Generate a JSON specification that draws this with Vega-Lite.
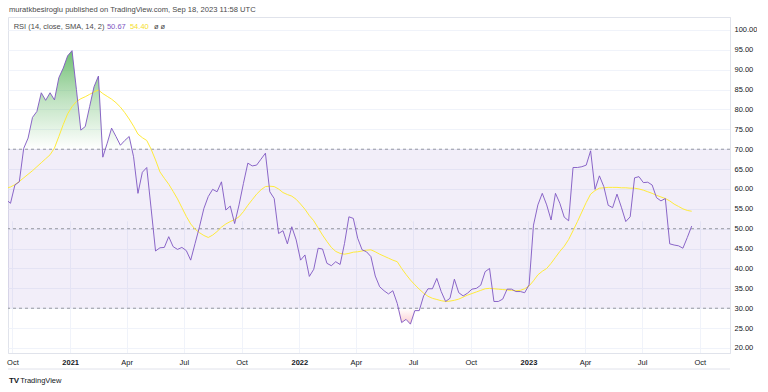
{
  "$schema": "https://vega.github.io/schema/vega-lite/v6.json",
  "width": 722,
  "height": 336,
  "padding": {"left": 6, "top": 6, "right": 0, "bottom": 0},
  "background": "white",
  "title": {"text": "muratkbesiroglu published on TradingView.com, Sep 18, 2023 11:58 UTC", "anchor": "start", "frame": "group", "font": "Liberation Sans", "fontSize": 7.6, "fontWeight": "normal", "color": "#4a4a4a", "offset": 3, "dx": 1},
  "config": {"view": {"stroke": "#e0e3eb", "strokeWidth": 1}, "font": "Liberation Sans", "axisY": {"tickCount": 17, "labelOverlap": false}},
  "data": {"values": [
    {"d":"2020-09-21","rsi":57.3,"sma":60.2},
    {"d":"2020-09-28","rsi":56.4,"sma":60.5},
    {"d":"2020-10-05","rsi":61.0,"sma":61.1},
    {"d":"2020-10-12","rsi":61.8,"sma":61.9},
    {"d":"2020-10-19","rsi":70.2,"sma":62.8},
    {"d":"2020-10-26","rsi":72.8,"sma":63.7},
    {"d":"2020-11-02","rsi":78.0,"sma":64.6},
    {"d":"2020-11-09","rsi":79.5,"sma":65.6},
    {"d":"2020-11-16","rsi":84.2,"sma":66.6},
    {"d":"2020-11-23","rsi":82.3,"sma":67.6},
    {"d":"2020-11-30","rsi":84.2,"sma":68.6},
    {"d":"2020-12-07","rsi":82.4,"sma":70.3},
    {"d":"2020-12-14","rsi":88.0,"sma":73.2},
    {"d":"2020-12-21","rsi":90.4,"sma":76.2},
    {"d":"2020-12-28","rsi":93.5,"sma":78.9},
    {"d":"2021-01-04","rsi":94.8,"sma":80.7},
    {"d":"2021-01-11","rsi":85.0,"sma":82.0},
    {"d":"2021-01-18","rsi":74.8,"sma":82.7},
    {"d":"2021-01-25","rsi":75.7,"sma":83.2},
    {"d":"2021-02-01","rsi":80.7,"sma":83.8},
    {"d":"2021-02-08","rsi":85.7,"sma":84.4},
    {"d":"2021-02-15","rsi":88.4,"sma":84.9},
    {"d":"2021-02-22","rsi":68.0,"sma":84.0},
    {"d":"2021-03-01","rsi":71.5,"sma":83.3},
    {"d":"2021-03-08","rsi":75.3,"sma":82.6},
    {"d":"2021-03-15","rsi":73.2,"sma":81.7},
    {"d":"2021-03-22","rsi":71.0,"sma":80.6},
    {"d":"2021-03-29","rsi":72.2,"sma":79.2},
    {"d":"2021-04-05","rsi":73.2,"sma":77.6},
    {"d":"2021-04-12","rsi":68.1,"sma":75.8},
    {"d":"2021-04-19","rsi":58.9,"sma":73.8},
    {"d":"2021-04-26","rsi":64.2,"sma":72.9},
    {"d":"2021-05-03","rsi":65.4,"sma":72.2},
    {"d":"2021-05-10","rsi":55.0,"sma":70.0},
    {"d":"2021-05-17","rsi":44.4,"sma":67.3},
    {"d":"2021-05-24","rsi":45.2,"sma":64.3},
    {"d":"2021-05-31","rsi":45.3,"sma":62.7},
    {"d":"2021-06-07","rsi":48.0,"sma":61.2},
    {"d":"2021-06-14","rsi":45.5,"sma":59.4},
    {"d":"2021-06-21","rsi":44.8,"sma":57.5},
    {"d":"2021-06-28","rsi":45.3,"sma":55.3},
    {"d":"2021-07-05","rsi":44.5,"sma":53.1},
    {"d":"2021-07-12","rsi":42.1,"sma":51.2},
    {"d":"2021-07-19","rsi":46.3,"sma":49.9},
    {"d":"2021-07-26","rsi":50.5,"sma":49.0},
    {"d":"2021-08-02","rsi":55.1,"sma":48.3},
    {"d":"2021-08-09","rsi":58.1,"sma":47.8},
    {"d":"2021-08-16","rsi":59.9,"sma":48.4},
    {"d":"2021-08-23","rsi":59.3,"sma":49.3},
    {"d":"2021-08-30","rsi":61.8,"sma":50.4},
    {"d":"2021-09-06","rsi":54.7,"sma":51.2},
    {"d":"2021-09-13","rsi":55.7,"sma":51.8},
    {"d":"2021-09-20","rsi":51.3,"sma":52.3},
    {"d":"2021-09-27","rsi":56.0,"sma":53.0},
    {"d":"2021-10-04","rsi":61.4,"sma":54.3},
    {"d":"2021-10-11","rsi":66.5,"sma":55.9},
    {"d":"2021-10-18","rsi":65.8,"sma":57.3},
    {"d":"2021-10-25","rsi":66.0,"sma":58.7},
    {"d":"2021-11-01","rsi":67.5,"sma":59.8},
    {"d":"2021-11-08","rsi":69.0,"sma":60.6},
    {"d":"2021-11-15","rsi":59.3,"sma":60.7},
    {"d":"2021-11-22","rsi":57.6,"sma":60.6},
    {"d":"2021-11-29","rsi":48.8,"sma":60.0},
    {"d":"2021-12-06","rsi":49.5,"sma":59.1},
    {"d":"2021-12-13","rsi":46.2,"sma":58.6},
    {"d":"2021-12-20","rsi":50.5,"sma":58.2},
    {"d":"2021-12-27","rsi":47.2,"sma":57.4},
    {"d":"2022-01-03","rsi":42.1,"sma":56.2},
    {"d":"2022-01-10","rsi":43.4,"sma":54.9},
    {"d":"2022-01-17","rsi":38.0,"sma":53.3},
    {"d":"2022-01-24","rsi":39.8,"sma":52.0},
    {"d":"2022-01-31","rsi":45.1,"sma":50.2},
    {"d":"2022-02-07","rsi":44.9,"sma":48.4},
    {"d":"2022-02-14","rsi":41.3,"sma":46.8},
    {"d":"2022-02-21","rsi":40.7,"sma":45.3},
    {"d":"2022-02-28","rsi":41.7,"sma":44.3},
    {"d":"2022-03-07","rsi":41.0,"sma":43.8},
    {"d":"2022-03-14","rsi":46.3,"sma":43.6},
    {"d":"2022-03-21","rsi":53.0,"sma":43.8},
    {"d":"2022-03-28","rsi":52.6,"sma":44.1},
    {"d":"2022-04-04","rsi":47.6,"sma":44.2},
    {"d":"2022-04-11","rsi":44.7,"sma":44.4},
    {"d":"2022-04-18","rsi":44.2,"sma":44.6},
    {"d":"2022-04-25","rsi":43.0,"sma":44.7},
    {"d":"2022-05-02","rsi":38.1,"sma":44.2},
    {"d":"2022-05-09","rsi":35.4,"sma":43.6},
    {"d":"2022-05-16","rsi":34.4,"sma":43.1},
    {"d":"2022-05-23","rsi":33.6,"sma":42.6},
    {"d":"2022-05-30","rsi":34.4,"sma":42.1},
    {"d":"2022-06-06","rsi":31.2,"sma":41.7},
    {"d":"2022-06-13","rsi":26.4,"sma":40.0},
    {"d":"2022-06-20","rsi":27.2,"sma":38.5},
    {"d":"2022-06-27","rsi":26.0,"sma":37.1},
    {"d":"2022-07-04","rsi":29.4,"sma":35.9},
    {"d":"2022-07-11","rsi":29.4,"sma":34.8},
    {"d":"2022-07-18","rsi":33.1,"sma":33.8},
    {"d":"2022-07-25","rsi":34.9,"sma":33.0},
    {"d":"2022-08-01","rsi":34.9,"sma":32.5},
    {"d":"2022-08-08","rsi":37.5,"sma":32.2},
    {"d":"2022-08-15","rsi":34.2,"sma":31.9},
    {"d":"2022-08-22","rsi":31.7,"sma":31.7},
    {"d":"2022-08-29","rsi":32.5,"sma":31.8},
    {"d":"2022-09-05","rsi":37.3,"sma":32.0},
    {"d":"2022-09-12","rsi":33.9,"sma":32.3},
    {"d":"2022-09-19","rsi":33.1,"sma":32.8},
    {"d":"2022-09-26","rsi":33.8,"sma":33.3},
    {"d":"2022-10-03","rsi":34.8,"sma":33.7},
    {"d":"2022-10-10","rsi":35.0,"sma":34.1},
    {"d":"2022-10-17","rsi":35.8,"sma":34.5},
    {"d":"2022-10-24","rsi":39.2,"sma":34.9},
    {"d":"2022-10-31","rsi":40.0,"sma":35.0},
    {"d":"2022-11-07","rsi":31.7,"sma":34.9},
    {"d":"2022-11-14","rsi":31.7,"sma":34.8},
    {"d":"2022-11-21","rsi":32.3,"sma":34.7},
    {"d":"2022-11-28","rsi":34.8,"sma":34.6},
    {"d":"2022-12-05","rsi":34.8,"sma":34.5},
    {"d":"2022-12-12","rsi":34.2,"sma":34.4},
    {"d":"2022-12-19","rsi":34.2,"sma":34.5},
    {"d":"2022-12-26","rsi":33.9,"sma":34.9},
    {"d":"2023-01-02","rsi":35.9,"sma":35.6},
    {"d":"2023-01-09","rsi":50.9,"sma":36.9},
    {"d":"2023-01-16","rsi":56.0,"sma":38.4},
    {"d":"2023-01-23","rsi":58.9,"sma":39.3},
    {"d":"2023-01-30","rsi":56.0,"sma":40.0},
    {"d":"2023-02-06","rsi":52.2,"sma":41.3},
    {"d":"2023-02-13","rsi":58.9,"sma":42.8},
    {"d":"2023-02-20","rsi":56.4,"sma":44.3},
    {"d":"2023-02-27","rsi":52.9,"sma":45.6},
    {"d":"2023-03-06","rsi":52.0,"sma":47.3},
    {"d":"2023-03-13","rsi":65.4,"sma":49.5},
    {"d":"2023-03-20","rsi":65.4,"sma":51.8},
    {"d":"2023-03-27","rsi":65.6,"sma":54.2},
    {"d":"2023-04-03","rsi":66.0,"sma":56.6},
    {"d":"2023-04-10","rsi":69.6,"sma":58.7},
    {"d":"2023-04-17","rsi":59.9,"sma":59.6},
    {"d":"2023-04-24","rsi":63.3,"sma":60.2},
    {"d":"2023-05-01","rsi":60.6,"sma":60.3},
    {"d":"2023-05-08","rsi":55.9,"sma":60.4},
    {"d":"2023-05-15","rsi":55.3,"sma":60.4},
    {"d":"2023-05-22","rsi":58.7,"sma":60.4},
    {"d":"2023-05-29","rsi":55.4,"sma":60.3},
    {"d":"2023-06-05","rsi":51.8,"sma":60.3},
    {"d":"2023-06-12","rsi":53.0,"sma":60.2},
    {"d":"2023-06-19","rsi":62.8,"sma":60.2},
    {"d":"2023-06-26","rsi":63.1,"sma":60.0},
    {"d":"2023-07-03","rsi":61.6,"sma":59.7},
    {"d":"2023-07-10","rsi":61.7,"sma":59.3},
    {"d":"2023-07-17","rsi":61.0,"sma":58.9},
    {"d":"2023-07-24","rsi":57.8,"sma":58.4},
    {"d":"2023-07-31","rsi":57.0,"sma":58.0},
    {"d":"2023-08-07","rsi":57.6,"sma":57.6},
    {"d":"2023-08-14","rsi":46.2,"sma":57.0},
    {"d":"2023-08-21","rsi":45.9,"sma":56.2},
    {"d":"2023-08-28","rsi":45.7,"sma":55.6},
    {"d":"2023-09-04","rsi":45.1,"sma":55.0},
    {"d":"2023-09-11","rsi":47.8,"sma":54.6},
    {"d":"2023-09-18","rsi":50.67,"sma":54.4}
  ]},
  "layer": [
    {
      "data": {"values": [{"lo": 30, "hi": 70}]},
      "mark": {"type": "rect", "color": "#7E57C2", "opacity": 0.1},
      "encoding": {
        "y": {"field": "hi", "type": "quantitative", "axis": null, "scale": {"domain": [18.74, 103.26], "nice": false, "zero": false}},
        "y2": {"field": "lo"}
      }
    },
    {
      "mark": {"type": "area", "clip": true, "fill": {"gradient": "linear", "x1": 0, "y1": 0, "x2": 0, "y2": 1, "stops": [{"offset": 0, "color": "rgba(76,175,80,0.8)"}, {"offset": 0.5, "color": "rgba(76,175,80,0.35)"}, {"offset": 1, "color": "rgba(76,175,80,0)"}]}},
      "encoding": {
        "x": {"field": "d", "type": "temporal", "title": null, "scale": {"domain": [{"year": 2020, "month": 9, "date": 24, "utc": true}, {"year": 2023, "month": 11, "date": 18, "utc": true}], "nice": false}},
        "y": {"field": "rsi", "type": "quantitative", "axis": null, "scale": {"domain": [70, 103.26], "range": [132.2, 0], "clamp": true, "nice": false, "zero": false}},
        "y2": {"datum": 70}
      }
    },
    {
      "mark": {"type": "area", "clip": true, "fill": {"gradient": "linear", "x1": 0, "y1": 0, "x2": 0, "y2": 1, "stops": [{"offset": 0, "color": "rgba(242,54,69,0)"}, {"offset": 1, "color": "rgba(242,54,69,0.25)"}]}},
      "encoding": {
        "x": {"field": "d", "type": "temporal", "title": null, "scale": {"domain": [{"year": 2020, "month": 9, "date": 24, "utc": true}, {"year": 2023, "month": 11, "date": 18, "utc": true}], "nice": false}},
        "y": {"field": "rsi", "type": "quantitative", "axis": null, "scale": {"domain": [18.74, 30], "range": [336, 291.24], "clamp": true, "nice": false, "zero": false}},
        "y2": {"datum": 30}
      }
    },
    {
      "layer": [
        {
          "data": {"values": [{"v": 70}, {"v": 50}, {"v": 30}]},
          "mark": {"type": "rule", "color": "#9598a1", "strokeWidth": 1, "strokeDash": [3, 3]},
          "encoding": {
            "y": {"field": "v", "type": "quantitative", "title": null, "scale": {"domain": [18.74, 103.26], "nice": false, "zero": false},
              "axis": {"orient": "right", "tickCount": 17, "values": [20, 25, 30, 35, 40, 45, 50, 55, 60, 65, 70, 75, 80, 85, 90, 95, 100], "format": ".2f", "labelOverlap": false, "labelBound": false, "grid": true, "gridColor": "#f0f3fa", "domainColor": "#e0e3eb", "ticks": false, "labelPadding": 4, "labelFontSize": 7.5, "labelColor": "#131722", "labelFont": "Liberation Sans"}}
          }
        },
        {
          "mark": {"type": "line", "clip": true, "color": "#FFEB3B", "strokeWidth": 1},
          "encoding": {
            "x": {"field": "d", "type": "temporal", "title": null, "scale": {"domain": [{"year": 2020, "month": 9, "date": 24, "utc": true}, {"year": 2023, "month": 11, "date": 18, "utc": true}], "nice": false},
              "axis": {"tickCount": {"interval": "month", "step": 3}, "labelExpr": "month(datum.value) === 0 ? timeFormat(datum.value, '%Y') : timeFormat(datum.value, '%b')", "labelFontWeight": {"condition": {"test": "month(datum.value) === 0", "value": "bold"}, "value": "normal"}, "grid": true, "gridColor": "#f0f3fa", "domainColor": "#e0e3eb", "ticks": false, "labelFontSize": 7.5, "labelColor": "#131722", "labelPadding": 5, "labelFlush": false, "labelFont": "Liberation Sans"}},
            "y": {"field": "sma", "type": "quantitative", "title": null, "scale": {"domain": [18.74, 103.26], "nice": false, "zero": false},
              "axis": {"orient": "right", "tickCount": 17, "values": [20, 25, 30, 35, 40, 45, 50, 55, 60, 65, 70, 75, 80, 85, 90, 95, 100], "format": ".2f", "labelOverlap": false, "labelBound": false, "grid": true, "gridColor": "#f0f3fa", "domainColor": "#e0e3eb", "ticks": false, "labelPadding": 4, "labelFontSize": 7.5, "labelColor": "#131722", "labelFont": "Liberation Sans"}}
          }
        },
        {
          "mark": {"type": "line", "clip": true, "color": "#7E57C2", "strokeWidth": 1, "opacity": 0.9},
          "encoding": {
            "x": {"field": "d", "type": "temporal", "title": null, "scale": {"domain": [{"year": 2020, "month": 9, "date": 24, "utc": true}, {"year": 2023, "month": 11, "date": 18, "utc": true}], "nice": false},
              "axis": {"tickCount": {"interval": "month", "step": 3}, "labelExpr": "month(datum.value) === 0 ? timeFormat(datum.value, '%Y') : timeFormat(datum.value, '%b')", "labelFontWeight": {"condition": {"test": "month(datum.value) === 0", "value": "bold"}, "value": "normal"}, "grid": true, "gridColor": "#f0f3fa", "domainColor": "#e0e3eb", "ticks": false, "labelFontSize": 7.5, "labelColor": "#131722", "labelPadding": 5, "labelFlush": false, "labelFont": "Liberation Sans"}},
            "y": {"field": "rsi", "type": "quantitative", "title": null, "scale": {"domain": [18.74, 103.26], "nice": false, "zero": false},
              "axis": {"orient": "right", "tickCount": 17, "values": [20, 25, 30, 35, 40, 45, 50, 55, 60, 65, 70, 75, 80, 85, 90, 95, 100], "format": ".2f", "labelOverlap": false, "labelBound": false, "grid": true, "gridColor": "#f0f3fa", "domainColor": "#e0e3eb", "ticks": false, "labelPadding": 4, "labelFontSize": 7.5, "labelColor": "#131722", "labelFont": "Liberation Sans"}}
          }
        },
        {
          "data": {"values": [{"t": "RSI (14, close, SMA, 14, 2)"}]},
          "mark": {"type": "text", "align": "left", "baseline": "middle", "fontSize": 7.5, "color": "#4a4a4a", "font": "Liberation Sans"},
          "encoding": {
            "text": {"field": "t"},
            "x": {"datum": {"year": 2020, "month": 10, "date": 3, "utc": true}, "type": "temporal"},
            "y": {"datum": 100.75, "type": "quantitative"}
          }
        },
        {
          "data": {"values": [{"t": "50.67"}]},
          "mark": {"type": "text", "align": "left", "baseline": "middle", "fontSize": 7.5, "color": "#7E57C2", "font": "Liberation Sans", "dx": 93.3},
          "encoding": {
            "text": {"field": "t"},
            "x": {"datum": {"year": 2020, "month": 10, "date": 3, "utc": true}, "type": "temporal"},
            "y": {"datum": 100.75, "type": "quantitative"}
          }
        },
        {
          "data": {"values": [{"t": "54.40"}]},
          "mark": {"type": "text", "align": "left", "baseline": "middle", "fontSize": 7.5, "color": "#F5DE2A", "font": "Liberation Sans", "dx": 116.3},
          "encoding": {
            "text": {"field": "t"},
            "x": {"datum": {"year": 2020, "month": 10, "date": 3, "utc": true}, "type": "temporal"},
            "y": {"datum": 100.75, "type": "quantitative"}
          }
        },
        {
          "data": {"values": [{"t": "ø  ø"}]},
          "mark": {"type": "text", "align": "left", "baseline": "middle", "fontSize": 7.5, "color": "#4a4a4a", "font": "Liberation Sans", "dx": 140.3},
          "encoding": {
            "text": {"field": "t"},
            "x": {"datum": {"year": 2020, "month": 10, "date": 3, "utc": true}, "type": "temporal"},
            "y": {"datum": 100.75, "type": "quantitative"}
          }
        },
        {
          "data": {"values": [{"v": 14.71}]},
          "mark": {"type": "rule", "color": "#e0e3eb", "strokeWidth": 1},
          "encoding": {
            "y": {"field": "v", "type": "quantitative", "title": null}
          }
        },
        {
          "data": {"values": [{"t": "TV"}]},
          "mark": {"type": "text", "align": "left", "baseline": "middle", "fontSize": 8, "fontWeight": "bold", "color": "#131722", "font": "Liberation Sans", "dx": -4.7},
          "encoding": {
            "text": {"field": "t"},
            "x": {"datum": {"year": 2020, "month": 10, "date": 3, "utc": true}, "type": "temporal"},
            "y": {"datum": 11.69, "type": "quantitative"}
          }
        },
        {
          "data": {"values": [{"t": "TradingView"}]},
          "mark": {"type": "text", "align": "left", "baseline": "middle", "fontSize": 7.5, "color": "#131722", "font": "Liberation Sans", "dx": 6.5},
          "encoding": {
            "text": {"field": "t"},
            "x": {"datum": {"year": 2020, "month": 10, "date": 3, "utc": true}, "type": "temporal"},
            "y": {"datum": 11.69, "type": "quantitative"}
          }
        }
      ]
    }
  ],
  "resolve": {"scale": {"y": "independent"}}
}
